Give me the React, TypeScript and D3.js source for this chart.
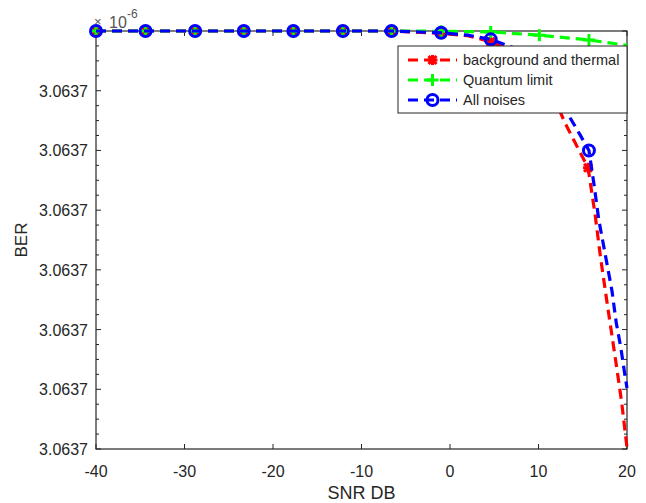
import React from 'react';
import * as d3 from 'd3';

// ---- data (BER shown in tick units of the axis; every tick label reads 3.0637) ----
const snrTicks = [-40, -30, -20, -10, 0, 10, 20];
const berTicks = [0, 1, 2, 3, 4, 5, 6];
const berTickLabels = ['3.0637', '3.0637', '3.0637', '3.0637', '3.0637', '3.0637', '3.0637'];

const snrRed = [-40, -34.4, -28.8, -23.3, -17.7, -12.1, -6.6, -1.0, 2.0, 4.6, 7.9, 10.1, 12.0, 13.0, 14.1, 15.0, 15.6, 16.4, 17.0, 17.6, 18.2, 18.8, 19.4, 20];
const berRed = [7, 7, 7, 7, 7, 7, 7, 6.96, 6.92, 6.82, 6.6, 6.28, 5.8, 5.46, 5.14, 4.88, 4.71, 3.92, 3.22, 2.6, 2.0, 1.4, 0.78, 0.02];
const markRed = [-40, -34.4, -28.8, -23.3, -17.7, -12.1, -6.6, -1.0, 4.6, 10.1, 15.6];

const snrGreen = [-40, -34.4, -28.8, -23.3, -17.7, -12.1, -6.6, -1.0, 4.6, 10.1, 15.7, 20];
const berGreen = [7, 7, 7, 7, 7, 7, 7, 6.995, 6.985, 6.93, 6.85, 6.76];
const markGreen = [-40, -34.4, -28.8, -23.3, -17.7, -12.1, -6.6, -1.0, 4.6, 10.1, 15.7];

const snrBlue = [-40, -34.4, -28.8, -23.3, -17.7, -12.1, -6.6, -1.0, 2.0, 4.6, 7.9, 10.1, 12.2, 13.6, 14.7, 15.7, 16.3, 16.8, 17.3, 17.8, 18.3, 18.8, 19.3, 19.7, 20];
const berBlue = [7, 7, 7, 7, 7, 7, 7, 6.97, 6.93, 6.86, 6.68, 6.42, 6.0, 5.54, 5.26, 5.0, 4.4, 3.85, 3.45, 3.05, 2.65, 2.1, 1.7, 1.3, 1.02];
const markBlue = [-40, -34.4, -28.8, -23.3, -17.7, -12.1, -6.6, -1.0, 4.6, 10.1, 15.7];

const legendLabels = ['background and thermal', 'Quantum limit', 'All noises'];

const W = 646, H = 503;
const L = 96, R = 627, T = 31, B = 449;
const FONT = '"Liberation Sans", Arial, sans-serif';
const AX = '#262626';

export default function App() {
  const x = d3.scaleLinear().domain([-40, 20]).range([L, R]);
  const y = d3.scaleLinear().domain([0, 7]).range([B, T]);
  const line = d3.line<[number, number]>().x(d => x(d[0])).y(d => y(d[1]));

  const series = [
    { snr: snrRed, ber: berRed, marks: markRed, color: '#ff0000', marker: 'star' },
    { snr: snrGreen, ber: berGreen, marks: markGreen, color: '#00ff00', marker: 'plus' },
    { snr: snrBlue, ber: berBlue, marks: markBlue, color: '#0000ff', marker: 'circle' },
  ];

  const drawMarker = (kind: string, cx: number, cy: number, color: string, key: string) => {
    if (kind === 'circle') {
      return <circle key={key} cx={cx} cy={cy} r={5.5} fill="none" stroke={color} strokeWidth={3} />;
    }
    if (kind === 'plus') {
      return (
        <g key={key} stroke={color} strokeWidth={3}>
          <line x1={cx - 6} x2={cx + 6} y1={cy} y2={cy} />
          <line x1={cx} x2={cx} y1={cy - 6} y2={cy + 6} />
        </g>
      );
    }
    return (
      <g key={key} stroke={color} strokeWidth={3}>
        <line x1={cx - 5} x2={cx + 5} y1={cy} y2={cy} />
        <line x1={cx} x2={cx} y1={cy - 5} y2={cy + 5} />
        <line x1={cx - 4} x2={cx + 4} y1={cy - 4} y2={cy + 4} />
        <line x1={cx - 4} x2={cx + 4} y1={cy + 4} y2={cy - 4} />
      </g>
    );
  };

  const minorTicks = d3.range(0, 7.001, 0.25);

  const legX = 398, legY = 46, legW = R - 398, legH = 67;

  return (
    <svg width={W} height={H} style={{ position: 'absolute', left: 0, top: 0, background: '#fff' }} fontFamily={FONT}>
      <rect x={0} y={0} width={W} height={H} fill="#fff" />
      {/* y minor + major ticks, left and right */}
      {minorTicks.map((t, i) => {
        const major = Math.abs(t - Math.round(t)) < 1e-6;
        const len = major ? 5 : 3;
        return (
          <g key={'yt' + i} stroke={AX} strokeWidth={1}>
            <line x1={L} x2={L + len} y1={y(t)} y2={y(t)} />
            <line x1={R} x2={R - len} y1={y(t)} y2={y(t)} />
          </g>
        );
      })}
      {snrTicks.map((t, i) => (
        <g key={'xt' + i} stroke={AX} strokeWidth={1}>
          <line x1={x(t)} x2={x(t)} y1={B} y2={B - 5} />
          <line x1={x(t)} x2={x(t)} y1={T} y2={T + 5} />
        </g>
      ))}
      {/* axes box */}
      <rect x={L} y={T} width={R - L} height={B - T} fill="none" stroke={AX} strokeWidth={1.2} />
      {/* tick labels */}
      {snrTicks.map((t, i) => (
        <text key={'xl' + i} x={x(t)} y={B + 28} textAnchor="middle" fontSize={16} fill={AX}>{t}</text>
      ))}
      {berTicks.map((t, i) => (
        <text key={'yl' + i} x={L - 8} y={y(t) + 6} textAnchor="end" fontSize={16} fill={AX}>{berTickLabels[i]}</text>
      ))}
      {/* exponent */}
      <text x={L - 2} y={26} fontSize={13} fill="#555">×</text>
      <text x={L + 13} y={28} fontSize={16} fill="#555">10</text>
      <text x={L + 31} y={18} fontSize={12} fill="#555">-6</text>
      {/* axis labels */}
      <text x={(L + R) / 2} y={499} textAnchor="middle" fontSize={18} fill={AX}>SNR DB</text>
      <text transform={`translate(27,${(T + B) / 2}) rotate(-90)`} textAnchor="middle" fontSize={17} fill={AX}>BER</text>
      {/* series */}
      {series.map((s, si) => {
        const pts = s.snr.map((v, i) => [v, s.ber[i]] as [number, number]);
        return (
          <g key={'s' + si}>
            <path d={line(pts) || ''} fill="none" stroke={s.color} strokeWidth={3.2} strokeDasharray="10 6" />
            {pts.filter(p => s.marks.includes(p[0])).map((p, i) => drawMarker(s.marker, x(p[0]), y(p[1]), s.color, 'm' + si + '-' + i))}
          </g>
        );
      })}
      {/* legend */}
      <rect x={legX} y={legY} width={legW} height={legH} fill="#fff" stroke={AX} strokeWidth={1} />
      {series.map((s, i) => {
        const ly = legY + 14 + i * 20;
        return (
          <g key={'lg' + i}>
            <line x1={legX + 10} x2={legX + 59} y1={ly} y2={ly} stroke={s.color} strokeWidth={3.2} strokeDasharray="10 6" />
            {drawMarker(s.marker, legX + 34.5, ly, s.color, 'lm' + i)}
            <text x={legX + 65} y={ly + 5} fontSize={14.5} fill={AX}>{legendLabels[i]}</text>
          </g>
        );
      })}
    </svg>
  );
}
